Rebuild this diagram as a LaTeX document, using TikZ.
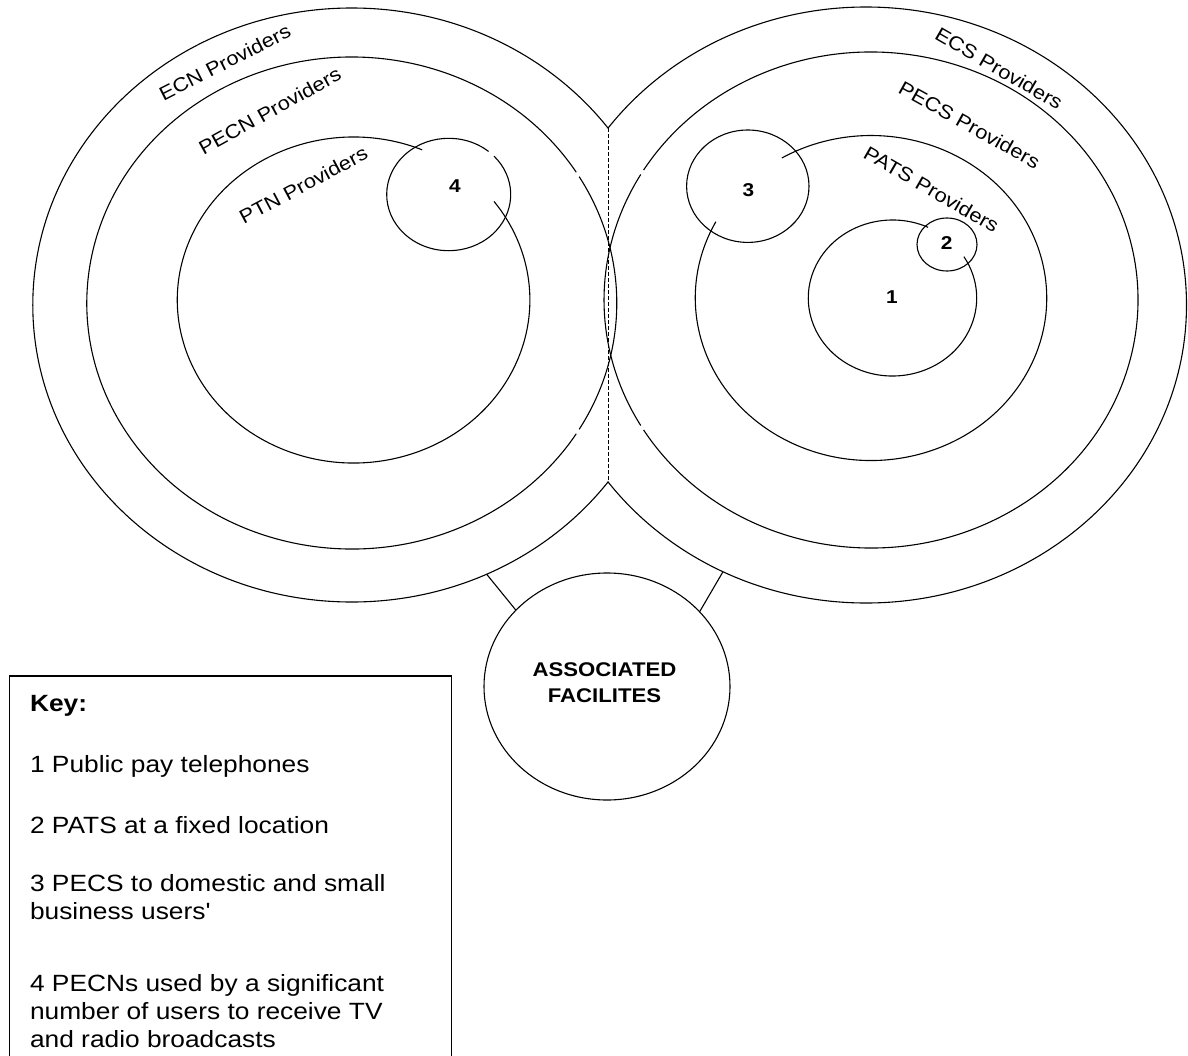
\documentclass[tikz,border=0pt]{standalone}
\usepackage{fontspec}
\setmainfont{Liberation Sans}[FakeStretch=1.12]
\usetikzlibrary{shapes.geometric}
% arc of an ellipse: cx, cy, rx, ry, start, end (parametric angles)
\newcommand{\ellarc}[6]{\draw ({#1+#3*cos(#5)},{#2-#4*sin(#5)}) arc[start angle=#5, end angle=#6, x radius=#3bp, y radius=#4bp];}
\begin{document}
\begin{tikzpicture}[x=1bp,y=-1bp,line width=1.1bp,
  lbl/.style={inner sep=0pt,font=\fontsize{19.5bp}{23bp}\selectfont},
  num/.style={inner sep=0pt,font=\bfseries\fontsize{18.6bp}{22bp}\selectfont},
  keytxt/.style={inner sep=0pt,anchor=base west,font=\fontsize{23.5bp}{28bp}\selectfont},
  dashline/.style={dash pattern=on 4bp off 2bp,line width=0.9bp}]
\useasboundingbox (0,0) rectangle (1188,1056);

% ---- left group (networks) ----
\begin{scope}
  \clip (-10,-10) rectangle (608,1070);
  \draw (351.8,305) ellipse [x radius=319bp, y radius=297bp];
\end{scope}
\ellarc{351.8}{303}{265}{246}{32.1}{327.9}
\ellarc{351.8}{303}{265}{246}{329.1}{390.9}
\ellarc{353.6}{300}{176.3}{163}{67.1}{397.2}
\ellarc{448.7}{194.5}{62}{56.2}{50}{403}

% ---- right group (services) ----
\begin{scope}
  \clip (608,-10) rectangle (1200,1070);
  \draw (866,305) ellipse [x radius=320.5bp, y radius=298bp];
\end{scope}
\ellarc{871}{300}{267}{248}{149.6}{210.4}
\ellarc{871}{300}{267}{248}{211.6}{508.4}
\ellarc{871}{298}{175.7}{162.5}{152}{480.5}
\draw (747.8,186.2) ellipse [x radius=61.2bp, y radius=56.2bp];
\ellarc{892.5}{298}{84.2}{78}{65}{392}
\draw (947,244.5) ellipse [x radius=30bp, y radius=26.5bp];

% ---- junction of the two outer rings ----
\coordinate (jtop) at (608,128.2);
\coordinate (jbot) at (608,481.8);
\draw[dashline] (jtop) -- (jbot);

% ---- associated facilities ----
\node[draw,ellipse,minimum width=246bp,minimum height=227bp,inner sep=0pt] (assoc) at (607,686.5) {};
\node[inner sep=0pt,align=center,font=\bfseries\fontsize{19.8bp}{26bp}\selectfont] (assoctxt) at (604.5,683) {ASSOCIATED\\FACILITES};
\coordinate (ecnfoot) at ({351.8+319*cos(-65)},{305-297*sin(-65)});
\coordinate (ecsfoot) at ({866+320.5*cos(-116.5)},{305-298*sin(-116.5)});
\draw (ecnfoot) -- (assoc.140.3);
\draw (ecsfoot) -- (assoc.39);

% ---- ring labels ----
\node[lbl,rotate=27] (lECN) at (224.8,62.5) {ECN Providers};
\node[lbl,rotate=29] (lPECN) at (269.8,110.9) {PECN Providers};
\node[lbl,rotate=28] (lPTN) at (303.3,185) {PTN Providers};
\node[lbl,rotate=-30] (lECS) at (999,68.4) {ECS Providers};
\node[lbl,rotate=-29] (lPECS) at (969.5,125) {PECS Providers};
\node[lbl,rotate=-30] (lPATS) at (931.4,189.2) {PATS Providers};

% ---- numbers ----
\node[num] (n1) at (892,297) {1};
\node[num] (n2) at (946.7,243.3) {2};
\node[num] (n3) at (748.3,190) {3};
\node[num] (n4) at (455,186) {4};

% ---- key ----
\draw[line width=1.2bp] (9.2,1060) -- (9.2,676) -- (451.5,676) -- (451.5,1060);
\node[keytxt,font=\bfseries\fontsize{23.5bp}{28bp}\selectfont] (keyhead) at (29.5,711) {Key:};
\node[keytxt] (k1) at (29.5,772) {1 Public pay telephones};
\node[keytxt] (k2) at (29.5,833) {2 PATS at a fixed location};
\node[keytxt] (k3a) at (29.5,891) {3 PECS to domestic and small};
\node[keytxt] (k3b) at (29.5,919) {business users\textquotesingle};
\node[keytxt] (k4a) at (29.5,991) {4 PECNs used by a significant};
\node[keytxt] (k4b) at (29.5,1019) {number of users to receive TV};
\node[keytxt] (k4c) at (29.5,1047) {and radio broadcasts};
\end{tikzpicture}
\end{document}
